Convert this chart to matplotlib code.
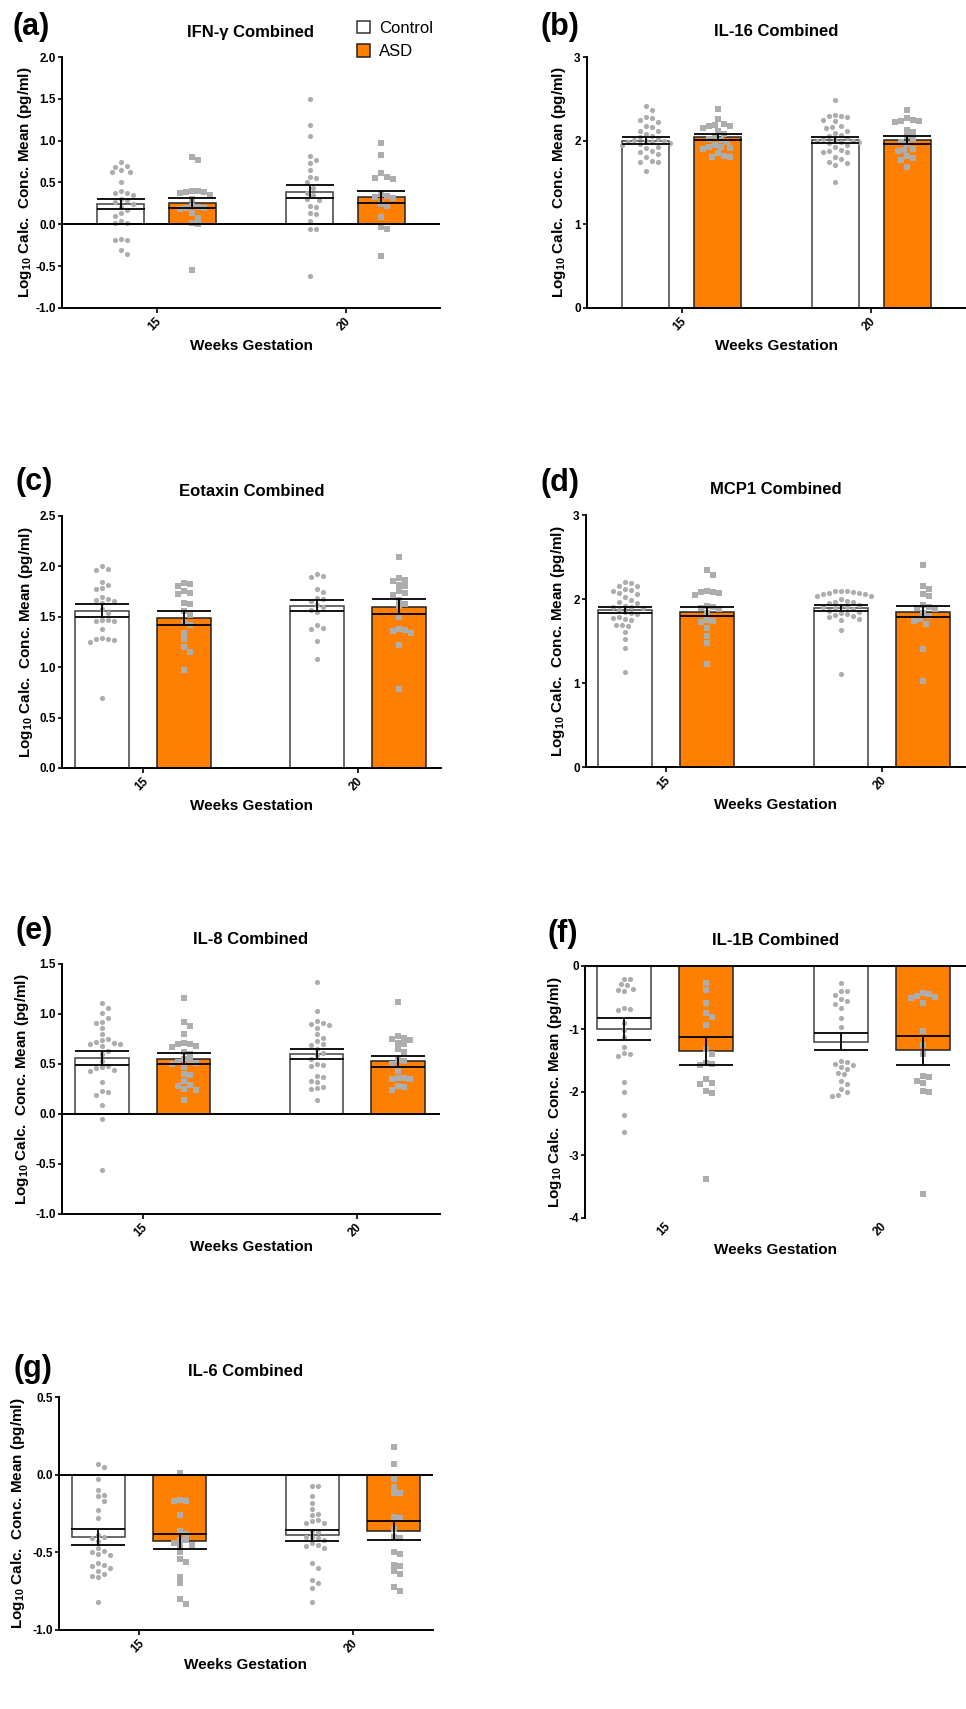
import numpy as np
import matplotlib
matplotlib.use('Agg')
import matplotlib.pyplot as plt
import matplotlib.transforms as mtransforms
from matplotlib.patches import Patch
from matplotlib.ticker import FormatStrFormatter

plt.rcParams['font.family'] = ['Liberation Sans', 'DejaVu Sans']
plt.rcParams['mathtext.fontset'] = 'custom'
plt.rcParams['mathtext.rm'] = 'Liberation Sans:bold'
plt.rcParams['mathtext.bf'] = 'Liberation Sans:bold'
plt.rcParams['axes.unicode_minus'] = False

W, H = 966, 1709

WEEKS = ['15', '20']
GROUPS = ['Control', 'ASD']

# ---- (a) IFN-gamma ----
IFNG_CTRL_15 = [0.75, 0.70, 0.69, 0.65, 0.63, 0.62, 0.50, 0.40, 0.38, 0.37, 0.35, 0.30, 0.29, 0.27,
                0.24, 0.21, 0.17, 0.13, 0.10, 0.04, 0.02, 0.01, -0.18, -0.19, -0.19, -0.31, -0.35]
IFNG_ASD_15 = [0.80, 0.77, 0.40, 0.40, 0.39, 0.39, 0.38, 0.35, 0.30, 0.22, 0.21, 0.20, 0.20, 0.18,
               0.13, 0.08, 0.02, 0.00, -0.55]
IFNG_CTRL_20 = [1.50, 1.19, 1.05, 0.82, 0.77, 0.73, 0.65, 0.57, 0.55, 0.50, 0.44, 0.38, 0.35, 0.30,
                0.29, 0.22, 0.21, 0.13, 0.12, 0.04, -0.05, -0.06, -0.62]
IFNG_ASD_20 = [0.97, 0.83, 0.61, 0.56, 0.55, 0.54, 0.36, 0.34, 0.33, 0.32, 0.24, 0.22, 0.09, -0.03,
               -0.06, -0.38]
IFNG_MEANS = [0.24, 0.26, 0.39, 0.33]
IFNG_SEMS = [0.06, 0.06, 0.075, 0.07]

# ---- (b) IL-16 ----
IL16_CTRL_15 = [2.41, 2.37, 2.28, 2.27, 2.25, 2.22, 2.18, 2.16, 2.12, 2.11, 2.08, 2.06, 2.04, 2.02,
                2.01, 2.00, 2.00, 1.99, 1.98, 1.97, 1.96, 1.95, 1.93, 1.91, 1.88, 1.86, 1.84, 1.80,
                1.76, 1.75, 1.74, 1.64]
IL16_ASD_15 = [2.38, 2.26, 2.20, 2.19, 2.18, 2.18, 2.15, 2.12, 2.08, 2.05, 2.02, 2.01, 1.98, 1.95,
               1.93, 1.92, 1.91, 1.90, 1.85, 1.82, 1.81, 1.80]
IL16_CTRL_20 = [2.49, 2.31, 2.30, 2.29, 2.28, 2.25, 2.23, 2.18, 2.16, 2.15, 2.12, 2.09, 2.07, 2.05,
                2.03, 2.02, 2.01, 2.00, 2.00, 1.99, 1.98, 1.97, 1.95, 1.92, 1.89, 1.88, 1.87, 1.86,
                1.80, 1.78, 1.74, 1.73, 1.71, 1.51]
IL16_ASD_20 = [2.37, 2.27, 2.25, 2.24, 2.23, 2.22, 2.13, 2.10, 2.05, 2.02, 1.99, 1.96, 1.90, 1.89,
               1.88, 1.82, 1.79, 1.77, 1.68]
IL16_MEANS = [2.00, 2.04, 2.01, 2.01]
IL16_SEMS = [0.04, 0.035, 0.035, 0.05]

# ---- (c) Eotaxin ----
EOTAXIN_CTRL_15 = [2.00, 1.97, 1.96, 1.85, 1.82, 1.79, 1.78, 1.70, 1.68, 1.67, 1.66, 1.64, 1.58,
                   1.54, 1.47, 1.47, 1.46, 1.46, 1.38, 1.29, 1.28, 1.28, 1.27, 1.25, 0.69]
EOTAXIN_ASD_15 = [1.84, 1.83, 1.81, 1.76, 1.74, 1.73, 1.64, 1.63, 1.56, 1.52, 1.44, 1.42, 1.34,
                  1.28, 1.20, 1.15, 0.97]
EOTAXIN_CTRL_20 = [1.92, 1.90, 1.89, 1.78, 1.75, 1.69, 1.68, 1.66, 1.62, 1.60, 1.57, 1.55, 1.42,
                   1.39, 1.38, 1.26, 1.08]
EOTAXIN_ASD_20 = [2.09, 1.88, 1.87, 1.86, 1.82, 1.81, 1.76, 1.74, 1.72, 1.67, 1.63, 1.61, 1.50,
                  1.38, 1.37, 1.36, 1.34, 1.22, 0.78]
EOTAXIN_MEANS = [1.56, 1.49, 1.61, 1.60]
EOTAXIN_SEMS = [0.065, 0.07, 0.055, 0.075]

# ---- (d) MCP1 ----
MCP1_CTRL_15 = [2.20, 2.19, 2.16, 2.15, 2.12, 2.11, 2.10, 2.07, 2.06, 2.02, 1.99, 1.96, 1.95, 1.92,
                1.91, 1.90, 1.89, 1.87, 1.84, 1.83, 1.82, 1.78, 1.77, 1.76, 1.75, 1.69, 1.69, 1.68,
                1.61, 1.52, 1.42, 1.13]
MCP1_ASD_15 = [2.34, 2.29, 2.09, 2.08, 2.08, 2.07, 2.05, 1.92, 1.90, 1.89, 1.88, 1.83, 1.75, 1.74,
               1.73, 1.65, 1.56, 1.48, 1.23]
MCP1_CTRL_20 = [2.10, 2.09, 2.09, 2.08, 2.07, 2.07, 2.06, 2.06, 2.04, 2.03, 2.00, 1.98, 1.97, 1.96,
                1.95, 1.93, 1.92, 1.91, 1.90, 1.89, 1.88, 1.86, 1.85, 1.83, 1.82, 1.81, 1.80, 1.78,
                1.76, 1.75, 1.63, 1.11]
MCP1_ASD_20 = [2.41, 2.16, 2.12, 2.06, 2.03, 1.93, 1.90, 1.89, 1.88, 1.83, 1.80, 1.76, 1.74, 1.70,
               1.41, 1.02]
MCP1_MEANS = [1.87, 1.85, 1.89, 1.85]
MCP1_SEMS = [0.04, 0.055, 0.035, 0.07]

# ---- (e) IL-8 ----
IL8_CTRL_15 = [1.11, 1.06, 1.01, 0.96, 0.92, 0.91, 0.86, 0.80, 0.75, 0.74, 0.72, 0.71, 0.70, 0.70,
               0.68, 0.63, 0.60, 0.53, 0.48, 0.47, 0.46, 0.44, 0.43, 0.32, 0.23, 0.22, 0.19, 0.09,
               -0.05, -0.56]
IL8_ASD_15 = [1.16, 0.92, 0.88, 0.80, 0.71, 0.70, 0.70, 0.68, 0.67, 0.62, 0.60, 0.55, 0.54, 0.52,
              0.51, 0.50, 0.47, 0.40, 0.39, 0.33, 0.29, 0.28, 0.25, 0.24, 0.14]
IL8_CTRL_20 = [1.32, 1.03, 0.93, 0.91, 0.90, 0.89, 0.86, 0.80, 0.76, 0.73, 0.70, 0.69, 0.65, 0.61,
               0.59, 0.55, 0.50, 0.49, 0.48, 0.38, 0.37, 0.33, 0.32, 0.27, 0.26, 0.25, 0.14]
IL8_ASD_20 = [1.12, 0.78, 0.76, 0.75, 0.74, 0.71, 0.70, 0.65, 0.62, 0.54, 0.53, 0.50, 0.43, 0.36,
              0.36, 0.35, 0.35, 0.28, 0.27, 0.24]
IL8_MEANS = [0.565, 0.555, 0.60, 0.53]
IL8_SEMS = [0.07, 0.055, 0.05, 0.055]

# ---- (f) IL-1B ----
IL1B_CTRL_15 = [-0.20, -0.21, -0.29, -0.30, -0.37, -0.38, -0.39, -0.66, -0.69, -0.70, -0.90, -1.02,
                -1.12, -1.28, -1.38, -1.40, -1.43, -1.84, -2.00, -2.36, -2.64]
IL1B_ASD_15 = [-0.27, -0.38, -0.59, -0.75, -0.81, -0.93, -1.32, -1.40, -1.54, -1.55, -1.57, -1.80,
               -1.86, -1.88, -1.98, -2.02, -3.38]
IL1B_CTRL_20 = [-0.27, -0.39, -0.40, -0.46, -0.53, -0.55, -0.61, -0.67, -0.83, -0.97, -1.50, -1.52,
                -1.56, -1.57, -1.61, -1.63, -1.70, -1.72, -1.82, -1.87, -1.95, -2.00, -2.04, -2.06]
IL1B_ASD_20 = [-0.43, -0.44, -0.47, -0.49, -0.50, -0.59, -1.03, -1.25, -1.40, -1.75, -1.76, -1.82,
               -1.85, -1.98, -2.00, -3.62]
IL1B_MEANS = [-1.00, -1.35, -1.20, -1.34]
IL1B_SEMS = [0.17, 0.22, 0.135, 0.23]

# ---- (g) IL-6 ----
IL6_CTRL_15 = [0.07, 0.05, -0.03, -0.10, -0.13, -0.14, -0.17, -0.23, -0.28, -0.39, -0.40, -0.41,
               -0.43, -0.47, -0.49, -0.50, -0.51, -0.52, -0.57, -0.58, -0.59, -0.60, -0.62, -0.64,
               -0.65, -0.66, -0.82]
IL6_ASD_15 = [0.01, -0.16, -0.17, -0.17, -0.26, -0.36, -0.38, -0.42, -0.42, -0.44, -0.45, -0.46,
              -0.50, -0.54, -0.56, -0.66, -0.70, -0.80, -0.83]
IL6_CTRL_20 = [-0.07, -0.07, -0.14, -0.18, -0.22, -0.25, -0.26, -0.29, -0.30, -0.31, -0.31, -0.36,
               -0.37, -0.40, -0.40, -0.41, -0.42, -0.44, -0.45, -0.46, -0.47, -0.57, -0.60, -0.68,
               -0.70, -0.73, -0.82]
IL6_ASD_20 = [0.18, 0.07, -0.03, -0.08, -0.12, -0.12, -0.27, -0.28, -0.35, -0.40, -0.41, -0.50,
              -0.51, -0.58, -0.59, -0.62, -0.64, -0.72, -0.75]
IL6_MEANS = [-0.40, -0.43, -0.39, -0.36]
IL6_SEMS = [0.05, 0.05, 0.035, 0.06]

PANELS = [
    dict(key='a', title='IFN-γ Combined', means=IFNG_MEANS, sems=IFNG_SEMS,
         points=[IFNG_CTRL_15, IFNG_ASD_15, IFNG_CTRL_20, IFNG_ASD_20],
         yticks=[-1.0, -0.5, 0.0, 0.5, 1.0, 1.5, 2.0], fmt='%.1f'),
    dict(key='b', title='IL-16 Combined', means=IL16_MEANS, sems=IL16_SEMS,
         points=[IL16_CTRL_15, IL16_ASD_15, IL16_CTRL_20, IL16_ASD_20],
         yticks=[0, 1, 2, 3], fmt='%d'),
    dict(key='c', title='Eotaxin Combined', means=EOTAXIN_MEANS, sems=EOTAXIN_SEMS,
         points=[EOTAXIN_CTRL_15, EOTAXIN_ASD_15, EOTAXIN_CTRL_20, EOTAXIN_ASD_20],
         yticks=[0.0, 0.5, 1.0, 1.5, 2.0, 2.5], fmt='%.1f'),
    dict(key='d', title='MCP1 Combined', means=MCP1_MEANS, sems=MCP1_SEMS,
         points=[MCP1_CTRL_15, MCP1_ASD_15, MCP1_CTRL_20, MCP1_ASD_20],
         yticks=[0, 1, 2, 3], fmt='%d'),
    dict(key='e', title='IL-8 Combined', means=IL8_MEANS, sems=IL8_SEMS,
         points=[IL8_CTRL_15, IL8_ASD_15, IL8_CTRL_20, IL8_ASD_20],
         yticks=[-1.0, -0.5, 0.0, 0.5, 1.0, 1.5], fmt='%.1f'),
    dict(key='f', title='IL-1B Combined', means=IL1B_MEANS, sems=IL1B_SEMS,
         points=[IL1B_CTRL_15, IL1B_ASD_15, IL1B_CTRL_20, IL1B_ASD_20],
         yticks=[-4, -3, -2, -1, 0], fmt='%d'),
    dict(key='g', title='IL-6 Combined', means=IL6_MEANS, sems=IL6_SEMS,
         points=[IL6_CTRL_15, IL6_ASD_15, IL6_CTRL_20, IL6_ASD_20],
         yticks=[-1.0, -0.5, 0.0, 0.5], fmt='%.1f'),
]

# pixel layout of each panel: axes box (x0, x1, y0, y1), x-limits, letter / title / labels
LAYOUT = {
    'a': dict(box=(62, 440, 57, 308), xlim=(-0.5, 1.5), letter=(31, 27), title_y=32, ylab_x=25, xlab_y=346),
    'b': dict(box=(587, 966, 57, 308), xlim=(-0.5, 1.5), letter=(560, 27), title_y=31, ylab_x=559, xlab_y=346),
    'c': dict(box=(62, 441, 516, 768), xlim=(-0.377, 1.386), letter=(34, 482), title_y=491, ylab_x=26, xlab_y=806),
    'd': dict(box=(586, 966, 515, 767), xlim=(-0.37, 1.389), letter=(560, 483), title_y=490, ylab_x=558, xlab_y=805),
    'e': dict(box=(62, 440, 964, 1214), xlim=(-0.377, 1.386), letter=(34, 931), title_y=939, ylab_x=22, xlab_y=1247),
    'f': dict(box=(585, 966, 966, 1218), xlim=(-0.37, 1.389), letter=(563, 934), title_y=940, ylab_x=555, xlab_y=1250),
    'g': dict(box=(59, 433, 1397, 1630), xlim=(-0.374, 1.374), letter=(33, 1369), title_y=1371, ylab_x=18, xlab_y=1665),
}

ORANGE = '#FF8000'
DOT_GRAY = '#ADADAD'
BAR_W = 0.25
BAR_OFF = 0.19
DOT_PX = 6.0


def fx(x):
    return x / W


def fy(y):
    return 1 - y / H


def swarm(values, px_y, d):
    # simple beeswarm: put each point at the nearest free horizontal slot
    ys = np.asarray(values, dtype=float) * px_y
    order = np.argsort(-ys)
    placed = []
    offs = np.zeros(len(ys))
    step = d * 0.5
    for i in order:
        k = 0
        while True:
            cands = [0.0] if k == 0 else [k * step, -k * step]
            found = None
            for c in cands:
                if all((c - px) ** 2 + (ys[i] - py) ** 2 >= d * d for px, py in placed):
                    found = c
                    break
            if found is not None:
                break
            k += 1
        offs[i] = found
        placed.append((found, ys[i]))
    return offs


def draw_panel(fig, spec):
    lay = LAYOUT[spec['key']]
    x0, x1, y0, y1 = lay['box']
    ax = fig.add_axes([fx(x0), fy(y1), (x1 - x0) / W, (y1 - y0) / H])
    ylim = (min(spec['yticks']), max(spec['yticks']))
    ax.set_xlim(*lay['xlim'])
    ax.set_ylim(*ylim)
    ax.patch.set_alpha(0)

    px_x = (x1 - x0) / (lay['xlim'][1] - lay['xlim'][0])
    px_y = (y1 - y0) / (ylim[1] - ylim[0])
    cap = 0.5 * BAR_W * px_x * 72 / 100

    for gi in range(len(WEEKS)):
        for si, grp in enumerate(GROUPS):
            idx = gi * 2 + si
            xc = gi + (-BAR_OFF if si == 0 else BAR_OFF)
            face = 'white' if si == 0 else ORANGE
            edge = '#404040' if si == 0 else '#222222'
            ax.bar(xc, spec['means'][idx], width=BAR_W, color=face, edgecolor=edge,
                   linewidth=1.1, zorder=2)
            vals = spec['points'][idx]
            offs = swarm(vals, px_y, DOT_PX) / px_x
            ax.scatter(xc + offs, vals, s=14, marker='o' if si == 0 else 's',
                       color=DOT_GRAY, linewidths=0, zorder=3, clip_on=False)
            ax.errorbar(xc, spec['means'][idx], yerr=spec['sems'][idx], fmt='none',
                        ecolor='black', elinewidth=1.3, capsize=cap, capthick=1.3, zorder=4)

    for side in ['top', 'right']:
        ax.spines[side].set_visible(False)
    for side in ['left', 'bottom']:
        ax.spines[side].set_linewidth(1.4)

    if spec['key'] == 'f':
        ax.spines['bottom'].set_visible(False)
        ax.spines['top'].set_visible(True)
        ax.spines['top'].set_linewidth(1.4)
    elif ylim[0] < 0:
        ax.axhline(0, color='black', linewidth=1.4, zorder=5)

    ax.set_yticks(spec['yticks'])
    ax.yaxis.set_major_formatter(FormatStrFormatter(spec['fmt']))
    ax.tick_params(axis='y', direction='out', length=3, width=1.2, pad=1.5, labelsize=8.5)
    ax.set_xticks(range(len(WEEKS)))
    ax.set_xticklabels(WEEKS)
    ax.tick_params(axis='x', direction='out', length=0 if spec['key'] == 'f' else 3.5,
                   width=1.2, pad=5, labelsize=8.5)
    for lbl in ax.get_yticklabels():
        lbl.set_fontweight('bold')
    shift = mtransforms.ScaledTranslation(3 / 100, 0, fig.dpi_scale_trans)
    for lbl in ax.get_xticklabels():
        lbl.set_fontweight('bold')
        lbl.set_rotation(45)
        lbl.set_ha('right')
        lbl.set_va('center')
        lbl.set_rotation_mode('anchor')
        lbl.set_transform(lbl.get_transform() + shift)

    ax.set_ylabel(r'Log$_{10}$ Calc.  Conc. Mean (pg/ml)', fontsize=11, fontweight='bold', va='center')
    ax.yaxis.set_label_coords((lay['ylab_x'] - x0) / (x1 - x0), 0.5)
    ax.set_xlabel('Weeks Gestation', fontsize=11, fontweight='bold', va='center')
    ax.xaxis.set_label_coords(0.5, -(lay['xlab_y'] - y1) / (y1 - y0))

    fig.text(fx((x0 + x1) / 2), fy(lay['title_y']), spec['title'], fontsize=12,
             fontweight='bold', ha='center', va='center')
    fig.text(fx(lay['letter'][0]), fy(lay['letter'][1]), '(%s)' % spec['key'], fontsize=22,
             fontweight='bold', ha='center', va='center')
    return ax


def main():
    fig = plt.figure(figsize=(W / 100, H / 100), dpi=100)
    for spec in PANELS:
        draw_panel(fig, spec)

    handles = [Patch(facecolor='white', edgecolor='#333333', linewidth=1.1),
               Patch(facecolor=ORANGE, edgecolor='#222222', linewidth=1.1)]
    fig.legend(handles, GROUPS, loc='upper left', bbox_to_anchor=(fx(357), fy(21)),
               frameon=False, fontsize=12, handlelength=0.75, handleheight=0.75,
               handletextpad=0.55, labelspacing=0.5, borderpad=0, borderaxespad=0)

    fig.savefig('out.png', dpi=100)


if __name__ == '__main__':
    main()
